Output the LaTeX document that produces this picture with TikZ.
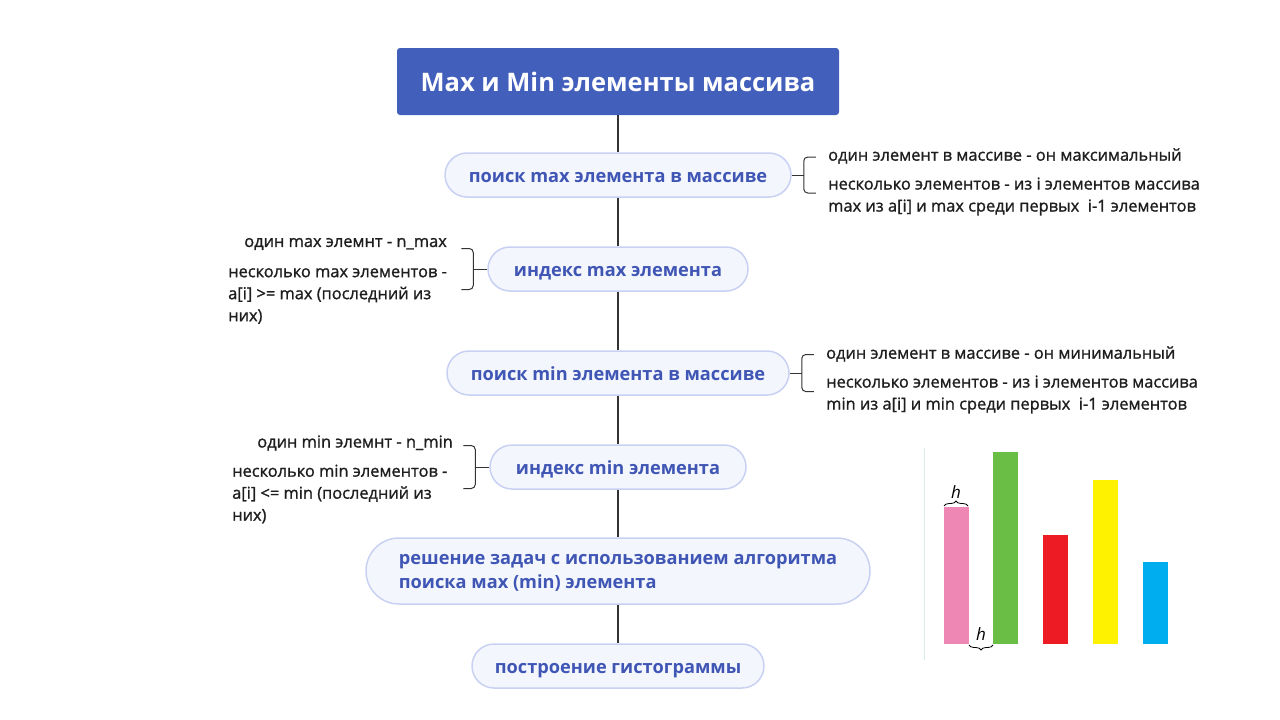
\documentclass[tikz,border=0pt]{standalone}
\usepackage{fontspec}
\setmainfont{Open Sans}
\newfontfamily\notefont[FakeBold=1.2]{Open Sans}
\usetikzlibrary{positioning,decorations.pathreplacing}
\definecolor{mapblue}{RGB}{66,95,187}
\definecolor{pilltext}{RGB}{63,86,180}
\definecolor{pillfill}{RGB}{244,246,254}
\definecolor{pillline}{RGB}{200,209,242}
\definecolor{stemgray}{RGB}{51,51,51}
\definecolor{notetext}{RGB}{30,30,30}
\definecolor{histaxis}{RGB}{216,236,236}
\definecolor{histpink}{RGB}{239,135,181}
\definecolor{histgreen}{RGB}{107,190,69}
\definecolor{histred}{RGB}{237,28,36}
\definecolor{histyellow}{RGB}{255,242,0}
\definecolor{histblue}{RGB}{0,174,239}
\tikzset{
  titlebox/.style={fill=mapblue, text=white, rounded corners=3pt, minimum width=442pt,
    minimum height=67pt, font=\fontsize{25.5}{32}\selectfont\bfseries},
  pill/.style={draw=pillline, line width=1.5pt, fill=pillfill, text=pilltext, inner sep=0pt,
    minimum height=44pt, rounded corners=22pt, text height=14pt, text depth=0pt,
    font=\fontsize{18.2}{24}\selectfont\bfseries},
  widepill/.style={pill, text height={}, text depth=-4pt, minimum width=504pt,
    minimum height=66pt, rounded corners=33pt, align=left},
  stem/.style={draw=stemgray, line width=1.5pt},
  note/.style={text=notetext, inner sep=0pt, font=\fontsize{16.4}{22}\notefont},
  bracket/.style={draw=stemgray, line width=1pt, rounded corners=4pt}
}
\newcommand{\bracer}[2]{%
  \draw[bracket] (#1.east) -- ++(12,0) coordinate (#1b);
  \draw[bracket] ([shift={(12,-#2)}]#1b) -- ([shift={(0,-#2)}]#1b)
        -- ([shift={(0,#2)}]#1b) -- ([shift={(12,#2)}]#1b);}
\newcommand{\bracel}[2]{%
  \draw[bracket] (#1.west) -- ++(-14,0) coordinate (#1b);
  \draw[bracket] ([shift={(-12,-#2)}]#1b) -- ([shift={(0,-#2)}]#1b)
        -- ([shift={(0,#2)}]#1b) -- ([shift={(-12,#2)}]#1b);}

\begin{document}
\begin{tikzpicture}[x=1pt, y=-1pt]
  \useasboundingbox (0,0) rectangle (1280,720);
  \node[titlebox] (title) at (618,81.5) {Max и Min элементы массива};
  \node[pill, minimum width=346pt] (findmax) at (618,175) {поиск max элемента в массиве};
  \node[pill, minimum width=260pt] (idxmax) at (618,269) {индекс max элемента};
  \node[pill, minimum width=342pt] (findmin) at (618,373) {поиск min элемента в массиве};
  \node[pill, minimum width=256pt] (idxmin) at (618,467) {индекс min элемента};
  \node[widepill] (tasks) at (618,571)
    {решение задач с использованием алгоритма\\поиска мах (min) элемента};
  \node[pill, minimum width=292pt] (histo) at (618,666) {построение гистограммы};
  \foreach \a/\b in {title/findmax, findmax/idxmax, idxmax/findmin, findmin/idxmin,
                     idxmin/tasks, tasks/histo}
    \draw[stem] (\a) -- (\b);

  \bracer{findmax}{18}
  \node[note, anchor=west] (maxone) at (828,156) {один элемент в массиве - он максимальный};
  \node[note, anchor=west, align=left] (maxmany) at (828,196.5)
    {несколько элементов - из i элементов массива\\max из a[i] и max среди первых\ \ i-1 элементов};
  \bracel{idxmax}{20.5}
  \node[note, anchor=east] (imaxone) at (447,244) {один max элемнт - n\_max};
  \node[note, anchor=west, align=left] (imaxmany) at (228,296)
    {несколько max элементов -\\a[i] >= max (последний из\\них)};
  \bracer{findmin}{18.5}
  \node[note, anchor=west] (minone) at (826,354) {один элемент в массиве - он минимальный};
  \node[note, anchor=west, align=left] (minmany) at (826,394.5)
    {несколько элементов - из i элементов массива\\min из a[i] и min среди первых\ \ i-1 элементов};
  \bracel{idxmin}{21.5}
  \node[note, anchor=east] (iminone) at (453,443) {один min элемнт - n\_min};
  \node[note, anchor=west, align=left] (iminmany) at (232,494)
    {несколько min элементов -\\a[i] <= min (последний из\\них)};

  \draw[histaxis, line width=1pt] (924,448) -- (924,660);
  \foreach \x/\top/\col in {944/507/histpink, 993/452/histgreen, 1043/535/histred,
                            1093/480/histyellow, 1143/562/histblue}
    \fill[\col] (\x,644) rectangle (\x+25,\top);
  \draw[decorate, decoration={brace, amplitude=5pt}, line width=0.8pt]
    (944,506) -- (968,506) node[midway, above=4pt, font=\fontsize{17}{20}\selectfont\itshape] {h};
  \draw[decorate, decoration={brace, amplitude=5pt}, line width=0.8pt]
    (993,645) -- (969,645);
  \node[font=\fontsize{17}{20}\selectfont\itshape] at (981,634) {h};
\end{tikzpicture}
\end{document}
